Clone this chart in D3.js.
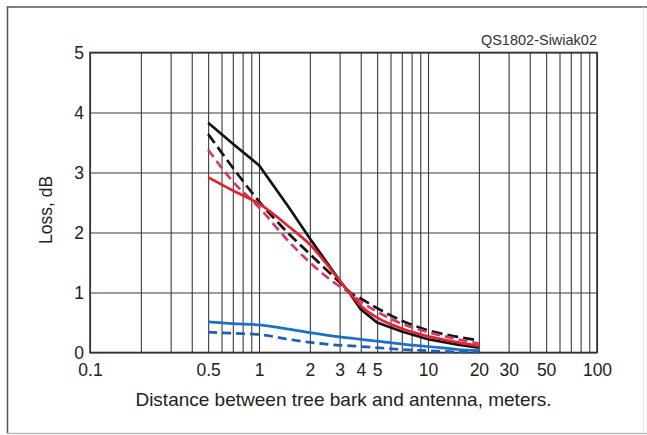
<!DOCTYPE html>
<html>
<head>
<meta charset="utf-8">
<script src="https://cdn.jsdelivr.net/npm/d3@7"></script>
<style>
  html, body { margin: 0; padding: 0; background: #fff; }
  svg { display: block; font-family: "Liberation Sans", Arial, sans-serif; }
  .grid line { stroke: #3a3a3a; stroke-width: 1.1; }
  .grid path { display: none; }
  .labels path, .labels line { display: none; }
  .labels text { fill: #222; font-size: 17.5px; }
</style>
</head>
<body>
<div id="chart"></div>
<script>
// Data
var distances = [0.5, 0.7, 1, 1.5, 2, 3, 3.5, 4, 5, 7, 10, 15, 20];

var blackSolid  = [3.83, 3.48, 3.12, 2.42, 1.9, 1.2, 0.96, 0.72, 0.5, 0.35, 0.22, 0.13, 0.08];
var blackDashed = [3.64, 3.08, 2.52, 1.98, 1.64, 1.17, 0.99, 0.9, 0.74, 0.53, 0.37, 0.26, 0.2];
var redDashed   = [3.38, 2.85, 2.42, 1.85, 1.5, 1.1, 0.98, 0.85, 0.68, 0.48, 0.34, 0.22, 0.15];
var redSolid    = [2.92, 2.7, 2.48, 2.1, 1.8, 1.2, 0.97, 0.78, 0.58, 0.4, 0.27, 0.17, 0.11];
var blueSolid   = [0.51, 0.48, 0.46, 0.39, 0.33, 0.26, 0.24, 0.22, 0.19, 0.14, 0.1, 0.05, 0.03];
var blueDashed  = [0.34, 0.32, 0.3, 0.22, 0.17, 0.12, 0.11, 0.1, 0.08, 0.05, 0.03, 0.01, 0.005];

var xTickLabels = [0.1, 0.5, 1, 2, 3, 4, 5, 10, 20, 30, 50, 100];
var yTickLabels = [0, 1, 2, 3, 4, 5];

var series = [
  { values: blackSolid,  color: "#141414", dash: null,   curve: d3.curveLinear },
  { values: blackDashed, color: "#141414", dash: "11,5", curve: d3.curveMonotoneX },
  { values: redDashed,   color: "#d23a68", dash: "9,5",  curve: d3.curveMonotoneX },
  { values: redSolid,    color: "#e2232d", dash: null,   curve: d3.curveMonotoneX },
  { values: blueSolid,   color: "#1e6fc8", dash: null,   curve: d3.curveMonotoneX },
  { values: blueDashed,  color: "#1d5fb4", dash: "9,5",  curve: d3.curveMonotoneX }
];

(function() {
  var W = 647, H = 435;
  var margin = { top: 52.5, right: 50, bottom: 82.5, left: 90 };
  var width = W - margin.left - margin.right;
  var height = H - margin.top - margin.bottom;

  var svg = d3.select("#chart").append("svg")
      .attr("width", W)
      .attr("height", H);

  // Figure frame
  svg.append("line").attr("x1", 7.5).attr("x2", 7.5).attr("y1", 6.5).attr("y2", 433)
    .attr("stroke", "#555").attr("stroke-width", 1.5);
  svg.append("line").attr("x1", 7).attr("x2", W).attr("y1", 7).attr("y2", 7)
    .attr("stroke", "#555").attr("stroke-width", 1.5);
  svg.append("line").attr("x1", 7).attr("x2", W).attr("y1", 433.5).attr("y2", 433.5)
    .attr("stroke", "#bbb").attr("stroke-width", 1.5);
  svg.append("line").attr("x1", 643.5).attr("x2", 643.5).attr("y1", 7).attr("y2", 433)
    .attr("stroke", "#e4e4e4").attr("stroke-width", 1);

  var g = svg.append("g")
      .attr("transform", "translate(" + margin.left + "," + margin.top + ")");

  var x = d3.scaleLog().domain([0.1, 100]).range([0, width]);
  var y = d3.scaleLinear().domain([0, 5]).range([height, 0]);

  // Log grid: every 1..9 multiple of each decade
  var gridValues = [];
  [0.1, 1, 10].forEach(function(p) {
    for (var k = 1; k <= 9; k++) gridValues.push(+(k * p).toPrecision(3));
  });
  gridValues.push(100);

  g.append("g")
      .attr("class", "grid")
      .attr("transform", "translate(0," + height + ")")
      .call(d3.axisBottom(x).tickValues(gridValues).tickSize(height).tickSizeOuter(0).tickFormat(""))
      .selectAll("line").attr("transform", "translate(0," + (-height) + ")");

  g.append("g")
      .attr("class", "grid")
      .call(d3.axisLeft(y).tickValues(yTickLabels).tickSize(-width).tickFormat(""))
      .selectAll("line").attr("stroke-width", 1.4);

  // Plot border
  g.append("rect")
      .attr("width", width).attr("height", height)
      .attr("fill", "none").attr("stroke", "#333").attr("stroke-width", 1.6);

  // Tick labels
  g.append("g")
      .attr("class", "labels")
      .attr("transform", "translate(0," + height + ")")
      .call(d3.axisBottom(x).tickValues(xTickLabels).tickSize(0).tickPadding(11)
        .tickFormat(function(d) { return String(d); }));

  g.append("g")
      .attr("class", "labels")
      .call(d3.axisLeft(y).tickValues(yTickLabels).tickSize(0).tickPadding(6)
        .tickFormat(d3.format("d")));

  // Data lines
  series.forEach(function(s) {
    var line = d3.line()
        .x(function(d) { return x(d[0]); })
        .y(function(d) { return y(d[1]); })
        .curve(s.curve);

    g.append("path")
      .datum(distances.map(function(dd, i) { return [dd, s.values[i]]; }))
      .attr("fill", "none")
      .attr("stroke", s.color)
      .attr("stroke-width", 2.7)
      .attr("stroke-dasharray", s.dash)
      .attr("d", line);
  });

  // Titles
  svg.append("text")
      .attr("x", margin.left + width / 2)
      .attr("y", 406)
      .attr("text-anchor", "middle")
      .attr("fill", "#222")
      .style("font-size", "19px")
      .text("Distance between tree bark and antenna, meters.");

  svg.append("text")
      .attr("transform", "translate(52,210) rotate(-90)")
      .attr("text-anchor", "middle")
      .attr("fill", "#222")
      .style("font-size", "17.5px")
      .text("Loss, dB");

  svg.append("text")
      .attr("x", margin.left + width)
      .attr("y", 45)
      .attr("text-anchor", "end")
      .attr("fill", "#333")
      .style("font-size", "14.5px")
      .text("QS1802-Siwiak02");
})();
</script>
</body>
</html>
